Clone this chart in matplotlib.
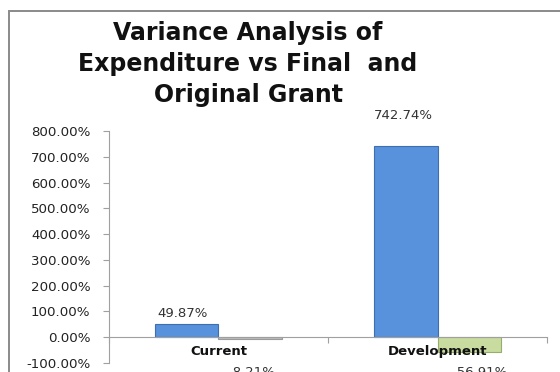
import matplotlib.pyplot as plt
from matplotlib.patches import Rectangle

categories = ["Current", "Development"]
vs_final = [49.87, 742.74]
vs_original = [-8.21, -56.91]
y_ticks = [-100, 0, 100, 200, 300, 400, 500, 600, 700, 800]

title = "Variance Analysis of\nExpenditure vs Final  and\nOriginal Grant"

plt.rcParams["font.family"] = ["DejaVu Sans"]

fig = plt.figure(figsize=(5.6, 3.72), dpi=100)
ax = fig.add_axes([0.1946, 0.025, 0.7822, 0.6218])

# chart area frame (only the left and top edges fall inside the image)
fig.patches.append(Rectangle((9 / 560, -0.2), 1.2, 1 - 11 / 372 + 0.2,
                             transform=fig.transFigure, fill=False,
                             edgecolor="#8a8a8a", linewidth=1.4))

x = range(len(categories))
w = 0.288
xa = [i - w / 2 for i in x]
xb = [i + w / 2 for i in x]

ax.bar(xa, vs_final, width=w, color="#5891dc", edgecolor="#3f6fae", linewidth=0.8)
ax.bar(xb[:1], vs_original[:1], width=w, color="#bdbdbd", edgecolor="#9a9a9a", linewidth=0.8)
ax.bar(xb[1:], vs_original[1:], width=w, color="#c9dc9f", edgecolor="#98ad6c", linewidth=0.8)

# value labels
ax.annotate(f"{vs_final[0]:.2f}%", (xa[0], vs_final[0]), xytext=(-3, 3),
            textcoords="offset points", ha="center", va="bottom", fontsize=9.5, color="#333333")
ax.annotate(f"{vs_final[1]:.2f}%", (xa[1], vs_final[1]), xytext=(-2, 17),
            textcoords="offset points", ha="center", va="bottom", fontsize=9.5, color="#333333")
ax.text(xb[0] + 0.01, -111, f"{vs_original[0]:.2f}%", ha="center", va="top",
        fontsize=9.5, color="#333333", clip_on=False)
ax.text(xb[1] + 0.05, -111, f"{vs_original[1]:.2f}%", ha="center", va="top",
        fontsize=9.5, color="#333333", clip_on=False)

# category names sit under the zero line
for i, name in enumerate(categories):
    ax.text(i, -55, name, ha="center", va="center", fontsize=9.5,
            fontweight="bold", color="#111111", clip_on=False)

ax.set_xlim(-0.5, len(categories) - 0.5)
ax.set_ylim(-100, 800)
ax.set_yticks(y_ticks)
ax.set_yticklabels([f"{v:.2f}%" for v in y_ticks])
ax.set_xticks([-0.5, 0.5, 1.5])
ax.set_xticklabels([])

for s in ("top", "right"):
    ax.spines[s].set_visible(False)
ax.spines["bottom"].set_position(("data", 0))
ax.spines["left"].set_color("#a0a0a0")
ax.spines["bottom"].set_color("#a0a0a0")
ax.tick_params(axis="y", length=4.3, width=0.8, color="#a0a0a0", pad=9,
               labelsize=9.6, labelcolor="#222222", direction="out")
ax.tick_params(axis="x", length=4, width=0.8, color="#a0a0a0", direction="out")

fig.text(248 / 560, 1 - 21 / 372, title, ha="center", va="top", fontsize=17,
         fontweight="bold", color="#111111", linespacing=1.36)

fig.savefig("out.png", dpi=100)
